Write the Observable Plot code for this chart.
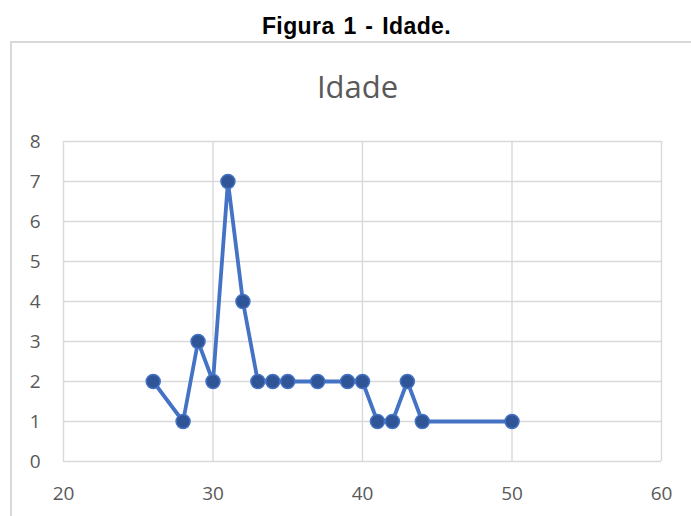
<!DOCTYPE html>
<html>
<head>
<meta charset="utf-8">
<script src="https://cdn.jsdelivr.net/npm/d3@7"></script>
<script src="https://cdn.jsdelivr.net/npm/@observablehq/plot@0.6"></script>
<style>
  html, body { margin: 0; padding: 0; background: #fff; width: 691px; height: 516px; overflow: hidden; }
  #title { height: 41px; width: 713px; text-align: center; font-family: "Liberation Sans", Arial, sans-serif; font-weight: bold; font-size: 23px; letter-spacing: 0.4px; word-spacing: 2px; line-height: 24px; color: #000; box-sizing: border-box; padding-top: 14px; white-space: nowrap; }
  #frame { margin-left: 10px; border-left: 2px solid #d9d9d9; border-top: 2px solid #d9d9d9; width: 700px; height: 480px; }
  #frame svg { display: block; }
</style>
</head>
<body>
<div id="title">Figura 1 - Idade.</div>
<div id="frame"></div>
<script>
const idade = [26, 28, 29, 30, 31, 32, 33, 34, 35, 37, 39, 40, 41, 42, 43, 44, 50];
const frequencia = [2, 1, 3, 2, 7, 4, 2, 2, 2, 2, 2, 2, 1, 1, 2, 1, 1];
const xTicks = [20, 30, 40, 50, 60];
const yTicks = [0, 1, 2, 3, 4, 5, 6, 7, 8];
const chartTitle = "Idade";

const data = idade.map((x, i) => ({x, y: frequencia[i]}));

const chart = Plot.plot({
  width: 679,
  height: 473,
  marginLeft: 51,
  marginRight: 30,
  marginTop: 98,
  marginBottom: 55,
  style: {fontFamily: "'Open Sans', sans-serif", fontSize: "19px", color: "#595959", background: "#fff", overflow: "visible"},
  x: {domain: [20, 60], ticks: xTicks, tickSize: 0, tickPadding: 25, label: null},
  y: {domain: [0, 8], ticks: yTicks, tickSize: 0, tickPadding: 23, label: null},
  marks: [
    Plot.gridY(yTicks, {stroke: "#d9d9d9", strokeOpacity: 1, strokeWidth: 1.4}),
    Plot.gridX(xTicks, {stroke: "#d9d9d9", strokeOpacity: 1, strokeWidth: 1.4}),
    Plot.axisX({ticks: xTicks, tickSize: 0, tickPadding: 25, fill: "#595959"}),
    Plot.axisY({ticks: yTicks, tickSize: 0, tickPadding: 23, fill: "#595959"}),
    Plot.line(data, {x: "x", y: "y", stroke: "#4472C4", strokeWidth: 3.8}),
    Plot.dot(data, {x: "x", y: "y", r: 7, fill: "#2F5597", stroke: "#4472C4", strokeWidth: 1.5}),
    Plot.text([chartTitle], {frameAnchor: "top", dy: -66, fontSize: 31, fill: "#595959", fontFamily: "'Open Sans', sans-serif", dx: -5})
  ]
});
document.getElementById("frame").appendChild(chart);
</script>
</body>
</html>
